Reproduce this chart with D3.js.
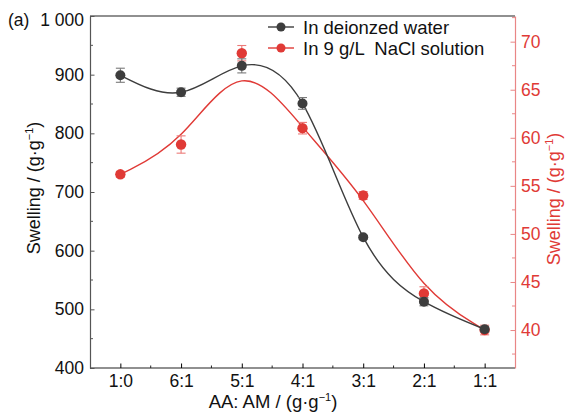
<!DOCTYPE html>
<html>
<head>
<meta charset="utf-8">
<script src="https://cdn.jsdelivr.net/npm/d3@7"></script>
<style>
  body { margin: 0; background: #fff; }
  svg text { font-family: "Liberation Sans", Arial, sans-serif; }
</style>
</head>
<body>
<svg id="chart" width="565" height="417"></svg>
<script>
// data
const ratios = ["1:0", "6:1", "5:1", "4:1", "3:1", "2:1", "1:1"];
const waterValues = [899, 870, 915, 851, 623, 513, 466];
const waterErrors = [12, 7, 12, 10, 3, 7, 5];
const salineValues = [56.2, 59.3, 68.8, 61.0, 54.0, 43.8, 40.0];
const salineErrors = [0.3, 0.9, 0.8, 0.6, 0.4, 0.7, 0.5];
const leftTicks = [400, 500, 600, 700, 800, 900, 1000];
const rightTicks = [40, 45, 50, 55, 60, 65, 70];

const dark = "#3d3d3d", red = "#e03a36", redAxis = "#e98686";
const plotLeft = 90, plotRight = 515, plotTop = 16, plotBottom = 368;
const tickFont = "17.5px";

const svg = d3.select("#chart");

let x = d3.scalePoint().domain(ratios).range([plotLeft, plotRight]).padding(0.5);
let yL = d3.scaleLinear().domain([400, 1000]).range([plotBottom, plotTop]);
let yR = d3.scaleLinear().domain([36.05, 72.67]).range([plotBottom, plotTop]);

// minor ticks
let step = x.step();
let xMinor = ratios.slice(1).map(function(d) { return x(d) - step / 2; });
let yLMinor = d3.range(450, 1000, 100);
let yRMinor = d3.range(37.5, 72.6, 5);

let g = svg.append("g");

g.selectAll("line.xminor").data(xMinor).enter().append("line")
  .attr("x1", d => d).attr("x2", d => d)
  .attr("y1", plotBottom).attr("y2", plotBottom - 2.5)
  .attr("stroke", "#222").attr("stroke-width", 1);
g.selectAll("line.ylminor").data(yLMinor).enter().append("line")
  .attr("y1", d => yL(d)).attr("y2", d => yL(d))
  .attr("x1", plotLeft).attr("x2", plotLeft + 3)
  .attr("stroke", "#555").attr("stroke-width", 1);
g.selectAll("line.yrminor").data(yRMinor).enter().append("line")
  .attr("y1", d => yR(d)).attr("y2", d => yR(d))
  .attr("x1", plotRight).attr("x2", plotRight - 3)
  .attr("stroke", redAxis).attr("stroke-width", 1);

// top frame line
svg.append("line")
  .attr("x1", plotLeft).attr("x2", plotRight).attr("y1", plotTop).attr("y2", plotTop)
  .attr("stroke", "#222").attr("stroke-width", 1.2);

// axes
let xAxis = svg.append("g")
  .attr("transform", "translate(0," + plotBottom + ")")
  .call(d3.axisBottom(x).tickSizeInner(-4.5).tickSizeOuter(0).tickPadding(7));
xAxis.select(".domain").attr("d", "M" + plotLeft + ",0H" + plotRight).attr("stroke", "#222").attr("stroke-width", 1.2);

let yAxisL = svg.append("g")
  .attr("transform", "translate(" + plotLeft + ",0)")
  .call(d3.axisLeft(yL).tickValues(leftTicks).tickSizeInner(-4.5).tickSizeOuter(0).tickPadding(6)
        .tickFormat(d => d === 1000 ? "1 000" : d));
yAxisL.select(".domain").attr("stroke", "#555").attr("stroke-width", 1.2);
yAxisL.selectAll(".tick line").attr("stroke", "#555");
// the top label sits a little lower in the original
yAxisL.selectAll(".tick text").filter(d => d === 1000).attr("y", 4)
  .style("white-space", "pre").attr("xml:space", "preserve");

let yAxisR = svg.append("g")
  .attr("transform", "translate(" + plotRight + ",0)")
  .call(d3.axisRight(yR).tickValues(rightTicks).tickSizeInner(-4.5).tickSizeOuter(0).tickPadding(6));
yAxisR.select(".domain").attr("stroke", redAxis).attr("stroke-width", 1.2);
yAxisR.selectAll(".tick line").attr("stroke", redAxis);
yAxisR.selectAll(".tick text").attr("fill", red);

svg.selectAll(".tick text")
  .style("font-size", tickFont)
  .style("font-family", '"Liberation Sans", Arial, sans-serif');
xAxis.selectAll(".tick text").attr("fill", "#111");
yAxisL.selectAll(".tick text").attr("fill", "#111");

// panel label
svg.append("text").attr("x", 8).attr("y", yL(1000) + 10)
  .style("font-size", tickFont).attr("fill", "#111").text("(a)");

// axis titles
svg.append("text")
  .attr("transform", "translate(40,188) rotate(-90)")
  .attr("text-anchor", "middle").style("font-size", "18px").attr("fill", "#111")
  .html('Swelling / (g·g<tspan dy="-7" font-size="11">\u22121</tspan><tspan dy="7">)</tspan>');
svg.append("text")
  .attr("transform", "translate(560,199) rotate(-90)")
  .attr("text-anchor", "middle").style("font-size", "18px").attr("fill", red)
  .html('Swelling / (g·g<tspan dy="-7" font-size="11">\u22121</tspan><tspan dy="7">)</tspan>');
svg.append("text")
  .attr("x", 273).attr("y", 408)
  .attr("text-anchor", "middle").style("font-size", "18.5px").attr("fill", "#111")
  .html('AA: AM / (g·g<tspan dy="-7" font-size="11">\u22121</tspan><tspan dy="7">)</tspan>');

// series
let water = ratios.map((r, i) => ({ r: r, v: waterValues[i], e: waterErrors[i] }));
let saline = ratios.map((r, i) => ({ r: r, v: salineValues[i], e: salineErrors[i] }));

function drawSeries(data, y, color, errColor, curve, radius) {
  let s = svg.append("g");
  s.append("path").datum(data)
    .attr("fill", "none").attr("stroke", color).attr("stroke-width", 1.4)
    .attr("d", d3.line().x(d => x(d.r)).y(d => y(d.v)).curve(curve));
  let eb = s.selectAll("g.err").data(data).enter().append("g")
    .attr("stroke", errColor).attr("stroke-width", 1.1);
  eb.append("line").attr("x1", d => x(d.r)).attr("x2", d => x(d.r))
    .attr("y1", d => y(d.v - d.e)).attr("y2", d => y(d.v + d.e));
  eb.append("line").attr("x1", d => x(d.r) - 4.5).attr("x2", d => x(d.r) + 4.5)
    .attr("y1", d => y(d.v - d.e)).attr("y2", d => y(d.v - d.e));
  eb.append("line").attr("x1", d => x(d.r) - 4.5).attr("x2", d => x(d.r) + 4.5)
    .attr("y1", d => y(d.v + d.e)).attr("y2", d => y(d.v + d.e));
  s.selectAll("circle").data(data).enter().append("circle")
    .attr("cx", d => x(d.r)).attr("cy", d => y(d.v)).attr("r", radius)
    .attr("fill", color);
}

drawSeries(saline, yR, red, "#ec7a78", d3.curveBasis, 5.2);
drawSeries(water, yL, dark, "#7a7a7a", d3.curveNatural, 5);

// legend
let legendItems = [
  { label: "In deionzed water", color: dark, y: 27 },
  { label: "In 9 g/L  NaCl solution", color: red, y: 48 }
];
let legend = svg.append("g").attr("class", "legend");
let li = legend.selectAll("g").data(legendItems).enter().append("g");
li.append("line").attr("x1", 268).attr("x2", 294)
  .attr("y1", d => d.y).attr("y2", d => d.y)
  .attr("stroke", d => d.color).attr("stroke-width", 1.4);
li.append("circle").attr("cx", 281).attr("cy", d => d.y).attr("r", 4.5)
  .attr("fill", d => d.color);
li.append("text").attr("x", 303).attr("y", d => d.y + 6.5)
  .style("font-size", "18.5px").attr("fill", "#111")
  .style("white-space", "pre").attr("xml:space", "preserve")
  .text(d => d.label);
</script>
</body>
</html>
